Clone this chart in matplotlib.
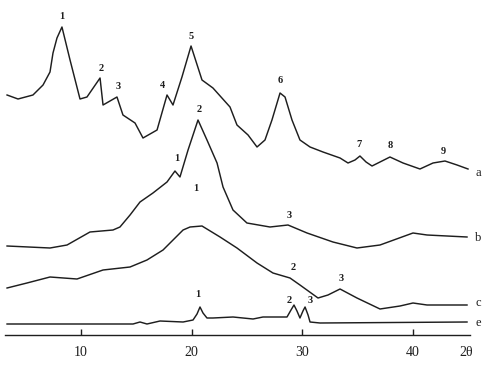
import matplotlib
matplotlib.use("Agg")
import matplotlib.pyplot as plt

# ---- data (2theta in degrees, intensity in arbitrary stacked units) ----
a_x = [3.32, 4.31, 5.66, 6.57, 7.20, 7.47, 7.83, 8.28, 9.01, 9.91, 10.54, 11.72, 11.99,
       13.25, 13.79, 14.88, 15.60, 16.87, 17.77, 18.31, 19.12, 19.94, 20.93, 21.92,
       23.46, 24.09, 25.09, 25.90, 26.62, 27.25, 27.98, 28.43, 29.06, 29.78, 30.69,
       31.86, 33.40, 34.12, 34.75, 35.20, 35.75, 36.29, 37.19, 37.91, 39.09, 40.62,
       41.80, 42.88, 43.97, 44.96]
a_y = [270, 266, 270, 280, 293, 312, 327, 338, 305, 266, 268, 287, 260,
       268, 250, 242, 227, 235, 270, 260, 288, 319, 285, 277,
       258, 240, 230, 218, 225, 245, 272, 268, 245, 225, 218,
       213, 207, 202, 205, 209, 203, 199, 204, 208, 202, 196,
       202, 204, 200, 196]

b_x = [3.32, 7.20, 8.74, 10.81, 12.89, 13.52, 14.43, 15.33, 16.50, 17.77, 18.49, 18.94,
       19.67, 20.57, 21.38, 22.29, 22.83, 23.73, 24.99, 27.07, 28.70, 30.42, 32.76,
       34.93, 37.01, 39.99, 41.26, 44.87]
b_y = [119, 117, 120, 133, 135, 138, 150, 163, 172, 183, 194, 188,
       215, 245, 225, 202, 178, 155, 142, 138, 140, 132, 123,
       117, 120, 132, 130, 128]

c_x = [3.32, 5.12, 7.20, 9.64, 11.99, 14.43, 15.96, 17.41, 19.22, 19.85, 20.93, 22.56,
       24.09, 25.90, 27.34, 28.88, 29.78, 31.41, 32.31, 33.40, 34.93, 37.01,
       38.82, 39.99, 41.26, 44.87]
c_y = [77, 82, 88, 86, 95, 98, 105, 115, 135, 138, 139, 128,
       117, 102, 92, 87, 80, 67, 70, 76, 67, 56,
       59, 62, 60, 60]

e_x = [3.32, 14.70, 15.33, 15.96, 17.14, 19.22, 20.12, 20.48, 20.75, 21.02, 21.38, 21.92,
       23.73, 25.54, 26.44, 28.61, 28.97, 29.24, 29.51, 29.78, 30.05, 30.24, 30.51,
       30.69, 31.59, 44.87]
e_y = [41, 41, 43, 41, 44, 43, 45, 51, 58, 52, 47, 47,
       48, 46, 48, 48, 55, 60, 54, 47, 54, 58, 50,
       43, 42, 43]

# peak labels: (x, y, text)
a_peaks = [(8.28, 344, "1"), (11.80, 292, "2"), (13.35, 274, "3"), (17.40, 275, "4"),
           (19.94, 324, "5"), (27.98, 280, "6"), (35.10, 216, "7"), (37.90, 215, "8"),
           (42.70, 209, "9")]
b_peaks = [(18.65, 202, "1"), (20.66, 251, "2"), (28.80, 145, "3")]
c_peaks = [(20.40, 172, "1"), (29.15, 93, "2"), (33.50, 82, "3")]
e_peaks = [(20.57, 66, "1"), (28.85, 60, "2"), (30.70, 60, "3")]

series = [(a_x, a_y, "a", 192), (b_x, b_y, "b", 127), (c_x, c_y, "c", 62), (e_x, e_y, "e", 42)]
peaks = [a_peaks, b_peaks, c_peaks, e_peaks]

xticks = [10, 20, 30, 40]

# ---- figure ----
fig = plt.figure(figsize=(4.85, 3.65), dpi=100)
px = 11.07  # pixels per degree
x0 = 2.683
ax = fig.add_axes([0, 30 / 365, 1, 335 / 365])
ax.set_xlim(x0, x0 + 485 / px)
ax.set_ylim(30, 365)

col = "#1e1e1e"
for (xs, ys, lab, ylab), pk in zip(series, peaks):
    ax.plot(xs, ys, color=col, lw=1.05, solid_joinstyle="round")
    ax.text(x0 + 478 / px, ylab, lab, fontsize=9, family="Liberation Serif",
            ha="center", va="center", color=col)
    for (x, y, t) in pk:
        ax.text(x, y, t, fontsize=7.5, family="Liberation Serif", fontweight="bold",
                ha="center", va="bottom", color=col)

for s in ["top", "right", "left"]:
    ax.spines[s].set_visible(False)
ax.spines["bottom"].set_bounds(x0 + 5 / px, x0 + 470 / px)
ax.spines["bottom"].set_color(col)
ax.spines["bottom"].set_linewidth(1.0)
ax.set_yticks([])
ax.set_xticks(xticks)
ax.set_xticklabels([str(t) for t in xticks], family="Liberation Serif", fontsize=10)
ax.tick_params(axis="x", direction="in", length=4, width=1.0, color=col, pad=8,
               labelcolor=col)
ax.text(x0 + 466 / px, 13, "2θ", fontsize=10, family="Liberation Serif",
        ha="center", va="center", color=col, transform=ax.transData, clip_on=False)

fig.savefig("out.png", dpi=100, facecolor="white")
